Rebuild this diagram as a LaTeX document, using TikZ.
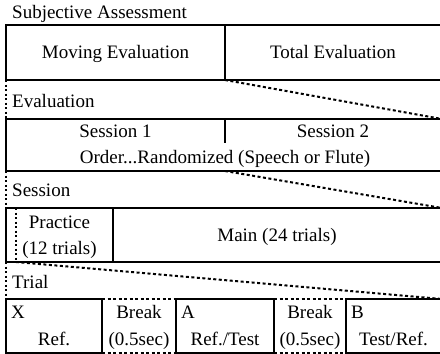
\documentclass[tikz,border=0pt]{standalone}
\usepackage{fontspec}
\setmainfont{Liberation Serif}
\begin{document}
\begin{tikzpicture}[x=1pt,y=-1pt,
  frame/.style={line width=2.2pt},
  dotline/.style={line width=2pt, dash pattern=on 2pt off 2.5pt},
  dashline/.style={line width=2pt, dash pattern=on 3pt off 2.5pt},
  txt/.style={anchor=base, inner sep=0pt, font=\fontsize{19}{22}\selectfont},
  lbl/.style={anchor=base west, inner sep=0pt, font=\fontsize{19}{22}\selectfont}]
\useasboundingbox (0,0) rectangle (440,354);
% coordinates
\coordinate (r1tl) at (6,25);   \coordinate (r1br) at (442,80);
\coordinate (r1mt) at (225,25); \coordinate (r1mb) at (225,80);
\coordinate (r1bl) at (6,80);
\coordinate (r2tl) at (6,119);  \coordinate (r2br) at (442,171);
\coordinate (r2mt) at (225,119); \coordinate (r2mm) at (225,143);
\coordinate (r2tr) at (442,119);
\coordinate (r2bl) at (6,171);  \coordinate (r2mb) at (225,171);
\coordinate (r3tl) at (6,208);  \coordinate (r3br) at (442,262);
\coordinate (r3tr) at (442,208);
\coordinate (r3pt) at (113,208); \coordinate (r3pb) at (113,262);
\coordinate (r3dt) at (16,208); \coordinate (r3db) at (16,262);
\coordinate (r3bl) at (6,262);
\coordinate (r4tl) at (6,299);  \coordinate (r4tr) at (442,299);
\coordinate (xbr) at (102,353);
\coordinate (at) at (176,299);  \coordinate (abr) at (274,353);
\coordinate (bt) at (346,299);  \coordinate (bbr) at (442,353);
\coordinate (b1t) at (102,299); \coordinate (b1b) at (102,353);
\coordinate (b2t) at (274,299); \coordinate (b2b) at (274,353);
\coordinate (ab) at (176,353);  \coordinate (bb) at (346,353);
% row 1
\draw[frame] (r1tl) rectangle (r1br);
\draw[frame] (r1mt) -- (r1mb);
\draw[dotline] (r1bl) -- (r2tl);
\draw[dashline] (r1mb) -- (r2tr);
% row 2
\draw[frame] (r2tl) rectangle (r2br);
\draw[frame] (r2mt) -- (r2mm);
\draw[dotline] (r2bl) -- (r3tl);
\draw[dashline] (r2mb) -- (r3tr);
% row 3
\draw[frame] (r3tl) rectangle (r3br);
\draw[frame] (r3pt) -- (r3pb);
\draw[dotline] (r3dt) -- (r3db);
\draw[dotline] (r3bl) -- (r4tl);
\draw[dashline] (r3db) -- (r4tr);
% row 4
\draw[frame] (r4tl) rectangle (xbr);
\draw[frame] (at) rectangle (abr);
\draw[frame] (bt) rectangle (bbr);
\draw[dashline] (b1t) -- (at);
\draw[dashline] (b1b) -- (ab);
\draw[dashline] (b2t) -- (bt);
\draw[dashline] (b2b) -- (bb);
% labels
\node[lbl] (lsa) at (12,18) {Subjective Assessment};
\node[lbl] (lev) at (12,107) {Evaluation};
\node[lbl] (lse) at (12,196) {Session};
\node[lbl] (ltr) at (12,288) {Trial};
% texts
\node[txt] (tme) at (115.5,58) {Moving Evaluation};
\node[txt] (tte) at (333,58) {Total Evaluation};
\node[txt] (ts1) at (115.5,137) {Session 1};
\node[txt] (ts2) at (333,137) {Session 2};
\node[txt] (tor) at (225,163) {Order...Randomized (Speech or Flute)};
\node[txt] (tpr) at (59.5,228) {Practice};
\node[txt] (t12) at (59.5,254) {(12 trials)};
\node[txt] (tma) at (277,241) {Main (24 trials)};
\node[lbl] (tx) at (11,318) {X};
\node[txt] (txr) at (54,345) {Ref.};
\node[txt] (tb1) at (139,318) {Break};
\node[txt] (tb1s) at (139,345) {(0.5sec)};
\node[lbl] (ta) at (181,318) {A};
\node[txt] (tar) at (225,345) {Ref./Test};
\node[txt] (tb2) at (310,318) {Break};
\node[txt] (tb2s) at (310,345) {(0.5sec)};
\node[lbl] (tb) at (351,318) {B};
\node[txt] (tbr) at (393.5,345) {Test/Ref.};
\end{tikzpicture}
\end{document}
